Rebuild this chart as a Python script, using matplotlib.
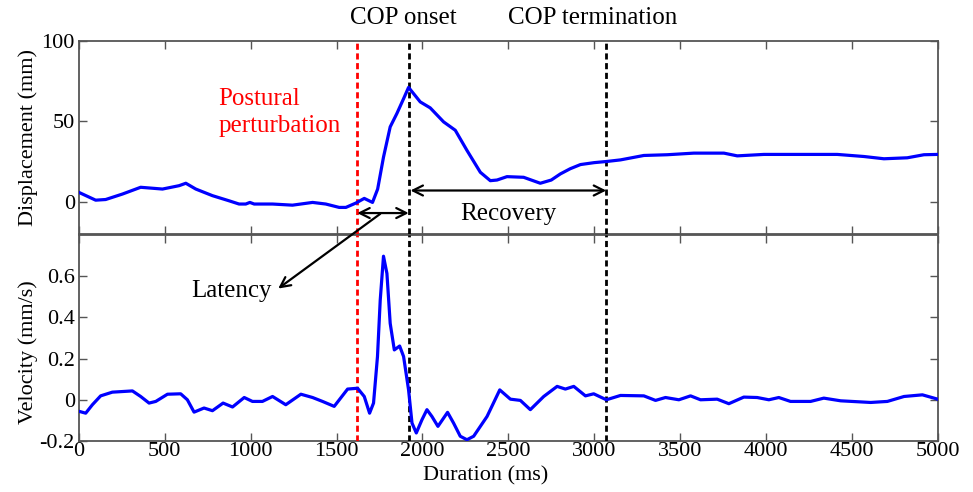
import matplotlib
matplotlib.use("Agg")
import matplotlib.pyplot as plt
from matplotlib.patches import ConnectionPatch

# ---- data ----
disp_t = [0, 97, 155, 253, 359, 486, 583, 622, 680, 777, 874, 932, 971, 995, 1020, 1127,
          1243, 1360, 1437, 1515, 1554, 1612, 1661, 1709, 1739, 1773, 1812, 1851, 1890,
          1919, 1987, 2045, 2123, 2191, 2259, 2337, 2395, 2434, 2492, 2589, 2686, 2750,
          2803, 2860, 2920, 3000, 3071, 3153, 3289, 3425, 3580, 3755, 3833, 3988, 4221,
          4415, 4571, 4687, 4823, 4920, 5000]
disp_mm = [5.8, 1.0, 1.4, 4.8, 9.0, 7.9, 10.0, 11.5, 7.9, 3.8, 0.6, -1.4, -1.4, -0.4, -1.4,
           -1.4, -2.1, -0.4, -1.4, -3.5, -3.5, -0.8, 2.1, -0.4, 7.9, 27.7, 46.5, 54.8, 64.0,
           71.0, 62.0, 58.3, 49.6, 44.4, 31.9, 18.3, 13.1, 13.5, 15.6, 15.2, 11.5, 13.5,
           17.3, 20.5, 23.1, 24.3, 25.0, 26.0, 28.75, 29.2, 30.2, 30.2, 28.5, 29.4, 29.4,
           29.4, 28.1, 26.7, 27.3, 29.2, 29.4]

vel_t = [0, 39, 78, 126, 194, 311, 359, 408, 447, 515, 592, 631, 670, 728, 777, 839, 894,
         962, 1010, 1068, 1127, 1204, 1292, 1360, 1418, 1486, 1564, 1622, 1661, 1692, 1715,
         1738, 1754, 1773, 1793, 1812, 1836, 1867, 1890, 1919, 1939, 1964, 1997, 2026,
         2055, 2090, 2146, 2181, 2220, 2259, 2298, 2376, 2450, 2512, 2570, 2628, 2706,
         2784, 2832, 2881, 2949, 2997, 3071, 3153, 3289, 3357, 3415, 3493, 3561, 3619,
         3716, 3784, 3871, 3949, 4017, 4075, 4143, 4260, 4337, 4435, 4610, 4707, 4804,
         4911, 5000]
vel_v = [-0.056, -0.065, -0.024, 0.019, 0.037, 0.043, 0.016, -0.016, -0.008, 0.027, 0.029,
         0.0, -0.060, -0.040, -0.053, -0.016, -0.035, 0.011, -0.008, -0.008, 0.016, -0.024,
         0.027, 0.011, -0.008, -0.032, 0.052, 0.056, 0.016, -0.065, -0.016, 0.210, 0.484,
         0.697, 0.613, 0.371, 0.242, 0.261, 0.210, 0.048, -0.113, -0.161, -0.097, -0.048,
         -0.081, -0.129, -0.061, -0.113, -0.177, -0.194, -0.177, -0.081, 0.048, 0.003,
         -0.003, -0.048, 0.016, 0.065, 0.052, 0.065, 0.019, 0.029, 0.0, 0.021, 0.019,
         -0.003, 0.011, 0.0, 0.019, 0.0, 0.003, -0.019, 0.013, 0.011, 0.0, 0.011, -0.008,
         -0.008, 0.008, -0.005, -0.013, -0.008, 0.016, 0.024, 0.003]

perturb_t = 1620
onset_t = 1920
term_t = 3070

xticks = [0, 500, 1000, 1500, 2000, 2500, 3000, 3500, 4000, 4500, 5000]
disp_ticks = [0, 50, 100]
vel_ticks = [-0.2, 0, 0.2, 0.4, 0.6]
vel_ticklabels = ["-0.2", "0", "0.2", "0.4", "0.6"]

# ---- style ----
plt.rcParams['font.family'] = ['Liberation Serif', 'DejaVu Serif']
BLUE = '#0000ff'
SPINE = '#555555'

fig = plt.figure(figsize=(9.73, 4.92), dpi=100)
ax1 = fig.add_axes([0.0812, 0.5244, 0.8825, 0.3929])
ax2 = fig.add_axes([0.0812, 0.1037, 0.8825, 0.4187])

dash = (0, (2.2, 1.3))
for ax in (ax1, ax2):
    ax.set_xlim(0, 5000)
    ax.set_xticks(xticks)
    for s in ax.spines.values():
        s.set_color(SPINE)
        s.set_linewidth(1.3)
    ax.tick_params(direction='in', top=True, right=True, length=6, width=1,
                   color=SPINE, labelsize=16)
    ax.axvline(perturb_t, color='#ff0000', lw=2.0, ls=dash, zorder=3)
    ax.axvline(onset_t, color='black', lw=2.0, ls=dash, zorder=3)
    ax.axvline(term_t, color='black', lw=2.0, ls=dash, zorder=3)

# top panel
ax1.plot(disp_t, disp_mm, color=BLUE, lw=2.3, zorder=4, solid_joinstyle='round')
ax1.set_ylim(-20, 100)
ax1.set_yticks(disp_ticks)
ax1.tick_params(axis='x', labelbottom=False, pad=2)
ax1.tick_params(axis='y', pad=3)
ax1.set_ylabel('Displacement (mm)', fontsize=16)
ax1.yaxis.set_label_coords(-0.048, 0.5)

# bottom panel
ax2.plot(vel_t, vel_v, color=BLUE, lw=2.3, zorder=4, solid_joinstyle='round')
ax2.set_ylim(-0.2, 0.8)
ax2.set_yticks(vel_ticks)
ax2.set_yticklabels(vel_ticklabels)
ax2.tick_params(axis='x', pad=1)
ax2.tick_params(axis='y', pad=3)
ax2.set_ylabel('Velocity (mm/s)', fontsize=16)
ax2.yaxis.set_label_coords(-0.048, 0.43)
ax2.set_xlabel('Duration (ms)', fontsize=16)
ax2.xaxis.set_label_coords(0.473, -0.125)

# annotations
ax1.text(1890, 114, 'COP onset', fontsize=18, ha='center', va='center', clip_on=False)
ax1.text(2990, 114, 'COP termination', fontsize=18, ha='center', va='center', clip_on=False)
ax1.text(810, 55.6, 'Postural\nperturbation', fontsize=18, color='#ff0000',
         ha='left', va='center', linespacing=1.3)
ax1.text(2500, -7.5, 'Recovery', fontsize=18, ha='center', va='center')
ax2.text(886, 0.53, 'Latency', fontsize=18, ha='center', va='center')

ax1.annotate('', xy=(perturb_t, -7), xytext=(onset_t, -7),
             arrowprops=dict(arrowstyle='<->', color='black', lw=1.6,
                             shrinkA=0, shrinkB=0, mutation_scale=18))
ax1.annotate('', xy=(onset_t + 10, 7), xytext=(term_t, 7),
             arrowprops=dict(arrowstyle='<->', color='black', lw=1.6,
                             shrinkA=0, shrinkB=0, mutation_scale=18))

con = ConnectionPatch(xyA=(1754, -7.5), coordsA=ax1.transData,
                      xyB=(1160, 0.54), coordsB=ax2.transData,
                      arrowstyle='->', color='black', lw=1.6,
                      shrinkA=0, shrinkB=0, mutation_scale=18, zorder=5)
fig.add_artist(con)

fig.savefig('out.png', dpi=100)
